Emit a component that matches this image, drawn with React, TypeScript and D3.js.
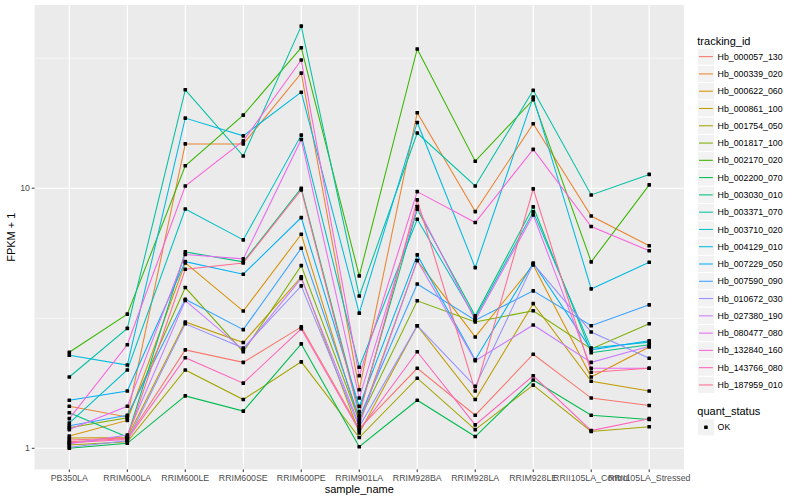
import React from 'react';
import * as d3 from 'd3';

// sample_name categories (x axis)
const sampleNames = [
  'PB350LA', 'RRIM600LA', 'RRIM600LE', 'RRIM600SE', 'RRIM600PE', 'RRIM901LA',
  'RRIM928BA', 'RRIM928LA', 'RRIM928LE', 'RRII105LA_Control', 'RRII105LA_Stressed',
];

// FPKM + 1 per tracking_id, one value per sample
const hb000057_130 = [1.06, 1.09, 2.39, 2.14, 2.93, 1.19, 2.03, 1.34, 2.30, 1.56, 1.46];
const hb000339_020 = [1.45, 1.32, 14.8, 14.8, 27.7, 1.68, 19.5, 8.13, 17.7, 7.82, 6.01];
const hb000622_060 = [1.115, 1.28, 5.16, 3.37, 6.65, 1.26, 5.27, 2.68, 5.07, 1.88, 2.45];
const hb000861_100 = [1.095, 1.1, 3.06, 2.55, 4.56, 1.145, 2.96, 1.54, 3.6, 1.81, 1.66];
const hb001754_050 = [1.03, 1.06, 2.0, 1.54, 2.15, 1.1, 1.86, 1.18, 1.75, 1.16, 1.21];
const hb001817_100 = [1.2, 1.31, 4.15, 2.35, 5.04, 1.28, 3.69, 3.06, 3.38, 2.41, 3.01];
const hb002170_020 = [2.34, 3.28, 12.2, 19.1, 34.7, 4.6, 34.3, 12.7, 21.9, 5.21, 10.3];
const hb002200_070 = [1.0, 1.045, 1.59, 1.39, 2.52, 1.014, 1.53, 1.11, 1.83, 1.34, 1.29];
const hb003030_010 = [1.37, 1.105, 5.69, 5.21, 10.0, 1.38, 8.3, 3.23, 8.48, 2.33, 2.5];
const hb003371_070 = [1.88, 2.89, 23.9, 13.3, 42.0, 3.85, 16.3, 10.2, 23.8, 9.42, 11.3];
const hb003710_020 = [1.25, 2.0, 8.32, 6.33, 16.0, 2.05, 7.6, 3.17, 8.11, 2.43, 2.56];
const hb004129_010 = [2.28, 2.09, 18.6, 15.9, 23.4, 3.31, 17.9, 4.95, 22.4, 4.1, 5.19];
const hb007229_050 = [1.53, 1.66, 5.22, 4.67, 7.71, 1.45, 5.54, 2.19, 5.16, 2.39, 2.59];
const hb007590_090 = [1.22, 1.34, 3.74, 2.86, 5.88, 1.31, 4.28, 3.11, 4.03, 2.96, 3.56];
const hb010672_030 = [1.01, 1.07, 3.01, 2.43, 4.21, 1.21, 2.96, 1.73, 5.12, 2.8, 2.22];
const hb027380_190 = [1.04, 1.125, 3.7, 2.39, 4.5, 1.23, 5.27, 2.17, 2.98, 2.14, 2.47];
const hb080477_080 = [1.18, 1.45, 5.56, 5.35, 15.4, 1.56, 8.5, 3.11, 7.89, 2.03, 2.03];
const hb132840_160 = [1.3, 2.5, 10.2, 15.2, 31.1, 1.9, 9.7, 7.38, 14.1, 7.12, 5.75];
const hb143766_080 = [1.05, 1.08, 2.23, 1.78, 2.88, 1.17, 2.35, 1.23, 1.9, 1.17, 1.3];
const hb187959_010 = [1.076, 1.095, 4.88, 5.16, 9.85, 1.34, 9.02, 1.66, 9.94, 1.96, 2.03];

const trackingIds = [
  'Hb_000057_130', 'Hb_000339_020', 'Hb_000622_060', 'Hb_000861_100', 'Hb_001754_050',
  'Hb_001817_100', 'Hb_002170_020', 'Hb_002200_070', 'Hb_003030_010', 'Hb_003371_070',
  'Hb_003710_020', 'Hb_004129_010', 'Hb_007229_050', 'Hb_007590_090', 'Hb_010672_030',
  'Hb_027380_190', 'Hb_080477_080', 'Hb_132840_160', 'Hb_143766_080', 'Hb_187959_010',
];
const seriesValues = [
  hb000057_130, hb000339_020, hb000622_060, hb000861_100, hb001754_050,
  hb001817_100, hb002170_020, hb002200_070, hb003030_010, hb003371_070,
  hb003710_020, hb004129_010, hb007229_050, hb007590_090, hb010672_030,
  hb027380_190, hb080477_080, hb132840_160, hb143766_080, hb187959_010,
];
const yBreaks = [1, 10];
const quantStatus = ['OK'];

// ggplot default hue palette for 20 levels
const huePalette = [
  '#F8766D', '#EA8331', '#D89000', '#C09B00', '#A3A500', '#7CAE00', '#39B600', '#00BB4E',
  '#00BF7D', '#00C1A3', '#00BFC4', '#00BAE0', '#00B0F6', '#35A2FF', '#9590FF', '#C77CFF',
  '#E76BF3', '#FA62DB', '#FF62BC', '#FF6C91',
];

const FONT = '"Liberation Sans", Arial, Helvetica, sans-serif';

export default function App() {
  const width = 800;
  const height = 500;
  const panel = { left: 34.5, right: 684, top: 5, bottom: 469.4 };

  const x = d3
    .scalePoint<string>()
    .domain(sampleNames)
    .range([panel.left, panel.right])
    .padding(0.6);

  // log10 scale with ggplot's 5% expansion on the transformed range
  const all = seriesValues.flat();
  const [lo, hi] = d3.extent(all.map((v) => Math.log10(v))) as [number, number];
  const pad = (hi - lo) * 0.05;
  const y = d3
    .scaleLog()
    .domain([Math.pow(10, lo - pad), Math.pow(10, hi + pad)])
    .range([panel.bottom, panel.top]);

  const minorBreaks: number[] = [];
  const lowDec = Math.floor(lo - pad);
  const highDec = Math.ceil(hi + pad);
  for (let e = lowDec; e < highDec; e++) {
    const m = Math.pow(10, e + 0.5);
    if (m > y.domain()[0] && m < y.domain()[1]) minorBreaks.push(m);
  }

  const line = d3
    .line<number>()
    .x((_, i) => x(sampleNames[i])!)
    .y((v) => y(v));

  const legendX = 697.3;
  const keySize = 17.28;
  const legendTop = 48;
  const quantTop = legendTop + keySize * trackingIds.length + 25;
  const pt = 3.6;

  return (
    <div style={{ position: 'fixed', left: 0, top: 0 }}>
      <svg width={width} height={height} style={{ display: 'block', fontFamily: FONT }}>
        <rect width={width} height={height} fill="#ffffff" />

        {/* panel */}
        <rect
          x={panel.left}
          y={panel.top}
          width={panel.right - panel.left}
          height={panel.bottom - panel.top}
          fill="#EBEBEB"
        />
        {minorBreaks.map((b) => (
          <line
            key={'mn' + b}
            x1={panel.left}
            x2={panel.right}
            y1={y(b)}
            y2={y(b)}
            stroke="#fff"
            strokeWidth={0.55}
          />
        ))}
        {yBreaks.map((b) => (
          <line
            key={'mj' + b}
            x1={panel.left}
            x2={panel.right}
            y1={y(b)}
            y2={y(b)}
            stroke="#fff"
            strokeWidth={1.1}
          />
        ))}
        {sampleNames.map((s) => (
          <line
            key={'vx' + s}
            x1={x(s)}
            x2={x(s)}
            y1={panel.top}
            y2={panel.bottom}
            stroke="#fff"
            strokeWidth={1.1}
          />
        ))}

        {/* lines */}
        {seriesValues.map((vals, i) => (
          <path
            key={'l' + i}
            d={line(vals) || ''}
            fill="none"
            stroke={huePalette[i]}
            strokeWidth={1.05}
          />
        ))}

        {/* points */}
        {seriesValues.map((vals, i) =>
          vals.map((v, j) => (
            <rect
              key={'p' + i + '-' + j}
              x={x(sampleNames[j])! - pt / 2}
              y={y(v) - pt / 2}
              width={pt}
              height={pt}
              rx={0.6}
              fill="#000"
            />
          ))
        )}

        {/* y axis */}
        {yBreaks.map((b) => (
          <g key={'yt' + b}>
            <line
              x1={panel.left - 2.7}
              x2={panel.left}
              y1={y(b)}
              y2={y(b)}
              stroke="#333333"
              strokeWidth={1}
            />
            <text
              x={panel.left - 4.5}
              y={y(b)}
              dy="0.35em"
              textAnchor="end"
              fontSize={8.8}
              fill="#4D4D4D"
            >
              {b}
            </text>
          </g>
        ))}
        <text
          transform={`translate(15,${(panel.top + panel.bottom) / 2}) rotate(-90)`}
          textAnchor="middle"
          fontSize={11}
          fill="#000"
        >
          FPKM + 1
        </text>

        {/* x axis */}
        {sampleNames.map((s) => (
          <g key={'xt' + s}>
            <line
              x1={x(s)}
              x2={x(s)}
              y1={panel.bottom}
              y2={panel.bottom + 2.7}
              stroke="#333333"
              strokeWidth={1}
            />
            <text x={x(s)} y={panel.bottom + 11.5} textAnchor="middle" fontSize={8.8} fill="#4D4D4D">
              {s}
            </text>
          </g>
        ))}
        <text
          x={(panel.left + panel.right) / 2}
          y={panel.bottom + 24}
          textAnchor="middle"
          fontSize={11}
          fill="#000"
        >
          sample_name
        </text>

        {/* legend: tracking_id */}
        <text x={legendX} y={44.5} fontSize={11} fill="#000">
          tracking_id
        </text>
        {trackingIds.map((id, i) => {
          const ky = legendTop + i * keySize;
          return (
            <g key={'lg' + id}>
              <rect x={legendX} y={ky} width={keySize} height={keySize} fill="#F2F2F2" stroke="#fff" strokeWidth={1} />
              <line
                x1={legendX + 1.7}
                x2={legendX + keySize - 1.7}
                y1={ky + keySize / 2}
                y2={ky + keySize / 2}
                stroke={huePalette[i]}
                strokeWidth={1.05}
              />
              <text x={legendX + keySize + 3} y={ky + keySize / 2} dy="0.35em" fontSize={8.8} fill="#000">
                {id}
              </text>
            </g>
          );
        })}

        {/* legend: quant_status */}
        <text x={legendX} y={quantTop - 4} fontSize={11} fill="#000">
          quant_status
        </text>
        {quantStatus.map((q, i) => {
          const ky = quantTop + i * keySize;
          return (
            <g key={'qs' + q}>
              <rect x={legendX} y={ky} width={keySize} height={keySize} fill="#F2F2F2" stroke="#fff" strokeWidth={1} />
              <rect
                x={legendX + keySize / 2 - pt / 2}
                y={ky + keySize / 2 - pt / 2}
                width={pt}
                height={pt}
                rx={0.6}
                fill="#000"
              />
              <text x={legendX + keySize + 3} y={ky + keySize / 2} dy="0.35em" fontSize={8.8} fill="#000">
                {q}
              </text>
            </g>
          );
        })}
      </svg>
    </div>
  );
}
